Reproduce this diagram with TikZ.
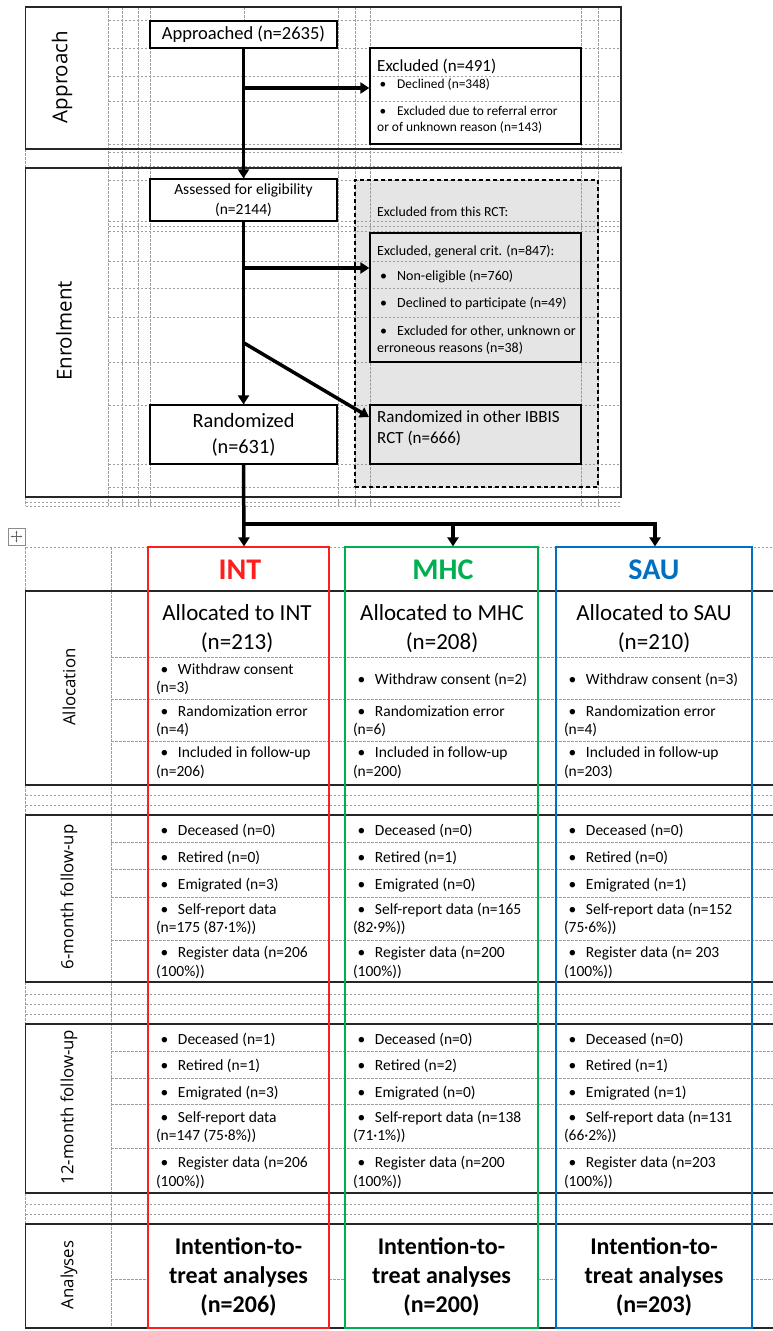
\documentclass[tikz,border=0pt]{standalone}
\usepackage{fontspec}
\setmainfont{Carlito}
\newfontfamily\labfont{Open Sans}
\usetikzlibrary{arrows.meta}
\usetikzlibrary{positioning}

\newcommand\fs[2]{\fontsize{#1}{#2}\selectfont}
\newcommand\itm[2][17.5pt]{\makebox[#1][l]{\textbullet}#2}
\newcommand\wrapln{\\\hspace*{-4.5pt}}

\begin{document}
\begin{tikzpicture}[x=1pt, y=-1pt,
    gline/.style={draw=black!38, line width=0.6pt, dash pattern=on 2.5pt off 1.5pt},
    sect/.style={draw=black!85, line width=1.7pt},
    box/.style={draw, line width=1.3pt, inner sep=0pt},
    arr/.style={-{Triangle[length=9pt,width=11pt]}, line width=3.5pt},
    txt/.style={anchor=west, inner sep=0pt, align=left},
    lab/.style={rotate=90, inner sep=0pt, font=\labfont\fs{20.5}{24}},
    sublab/.style={lab, font=\labfont\fs{16.8}{20}},
    colbox/.style={draw=#1, line width=1.2pt, inner sep=0pt, minimum height=781},
    item/.style={txt, font=\fs{15.5}{18.5}}]
  \useasboundingbox (0,0) rectangle (773,1331);
  % Define colors
  \definecolor{intred}{RGB}{255,30,30}
  \definecolor{mhcgreen}{RGB}{0,176,80}
  \definecolor{saublue}{RGB}{0,112,192}

  % Grey area of the other RCT
  \fill[black!10] (355,180) rectangle (598,487);

  % Table grid (upper part)
  \draw[gline] (108.5,20) -- (621,20) (108.5,48) -- (621,48) (108.5,76) -- (621,76)
    (108.5,101) -- (621,101) (108.5,144) -- (621,144) (108.5,152) -- (621,152)
    (108.5,166) -- (621,166) (108.5,180) -- (621,180) (108.5,221) -- (621,221)
    (108.5,226) -- (621,226) (108.5,231) -- (621,231) (108.5,261) -- (621,261)
    (108.5,288) -- (621,288) (108.5,317) -- (621,317) (108.5,362) -- (621,362)
    (108.5,405) -- (621,405) (108.5,464) -- (621,464) (108.5,487) -- (621,487)
    (25.6,502) -- (621,502) (25.6,506) -- (621,506);
  \draw[gline] (108.5,7) -- (108.5,506) (122,7) -- (122,506) (138,7) -- (138,506)
    (150,7) -- (150,506) (244,7) -- (244,506) (338,7) -- (338,506)
    (355,7) -- (355,506) (370,7) -- (370,506) (581,7) -- (581,506)
    (598,7) -- (598,506) (25.6,149) -- (25.6,168) (25.6,497) -- (25.6,506);

  % Table grid (lower part)
  \draw[gline] (25.6,547) -- (773,547) (25.6,547) -- (25.6,591) (111,547) -- (111,1328)
    (25.6,785) -- (25.6,815) (25.6,982) -- (25.6,1024) (25.6,1193) -- (25.6,1224);
  \draw[gline] (111,657) -- (773,657) (111,699) -- (773,699) (111,741) -- (773,741)
    (25.6,795) -- (773,795) (25.6,805) -- (773,805)
    (111,842) -- (773,842) (111,869) -- (773,869) (111,897) -- (773,897) (111,940) -- (773,940)
    (25.6,994) -- (773,994) (25.6,1004) -- (773,1004) (25.6,1014) -- (773,1014)
    (111,1051) -- (773,1051) (111,1078) -- (773,1078) (111,1104) -- (773,1104) (111,1148) -- (773,1148)
    (25.6,1204) -- (773,1204) (25.6,1214) -- (773,1214)
    (111,1279) -- (148,1279) (329,1279) -- (345,1279) (538,1279) -- (556,1279) (752,1279) -- (773,1279);

  % Section frames
  \draw[sect] (25.6,7) rectangle (621,149);
  \draw[sect] (25.6,168) rectangle (621,497);
  \draw[sect] (773,591) -- (25.6,591) -- (25.6,785) -- (773,785);
  \draw[sect] (773,815) -- (25.6,815) -- (25.6,982) -- (773,982);
  \draw[sect] (773,1024) -- (25.6,1024) -- (25.6,1193) -- (773,1193);
  \draw[sect] (773,1224) -- (25.6,1224) -- (25.6,1328) -- (773,1328);

  % Section labels
  \node[lab] (lapp) at (62,77) {Approach};
  \node[lab] (lenr) at (64,331) {Enrolment};
  \node[sublab] (lall) at (69,687) {Allocation};
  \node[sublab] (l6m) at (69,897) {6-month follow-up};
  \node[sublab] (l12m) at (69,1107) {12-month follow-up};
  \node[sublab] (lana) at (69,1275) {Analyses};

  % Approach
  \node[box, fill=white, minimum width=187, minimum height=27, font=\fs{18.5}{22}] (appr) at (243.5,34.5) {Approached (n=2635)};
  \node[box, minimum width=211, minimum height=96] (excl) at (475.5,96) {};
  \node[txt, font=\fs{17}{20}] (excl-t) at (377,66) {Excluded (n=491)};
  \node[txt, font=\fs{13.4}{16}] (excl-a) at (379.5,85) {\itm{Declined (n=348)}};
  \node[txt, font=\fs{13.4}{16}] (excl-b) at (379.5,120) {\itm{Excluded due to referral error}\\\hspace*{-2.5pt}or of unknown reason (n=143)};

  % Enrolment
  \node[draw, line width=1.2pt, dash pattern=on 4pt off 3pt, inner sep=0pt, minimum width=243, minimum height=307] (exarea) at (476.5,333.5) {};
  \node[txt, font=\fs{13.8}{16}] (exrct) at (377,212) {Excluded from this RCT:};
  \node[box, minimum width=211, minimum height=129] (exgen) at (475.5,297.5) {};
  \node[txt, font=\fs{14}{17}] (exgen-t) at (377,252) {Excluded, general crit. (n=847):};
  \node[txt, font=\fs{14}{17}] (exgen-a) at (380,277) {\itm[17pt]{Non-eligible (n=760)}};
  \node[txt, font=\fs{14}{17}] (exgen-b) at (380,304) {\itm[17pt]{Declined to participate (n=49)}};
  \node[txt, font=\fs{14}{17}] (exgen-c) at (380,340.5) {\itm[17pt]{Excluded for other, unknown or}\\\hspace*{-3pt}erroneous reasons (n=38)};
  \node[box, fill=white, minimum width=187, minimum height=42, align=center, font=\fs{15.5}{20}] (asse) at (243.5,200) {Assessed for eligibility\\(n=2144)};
  \node[box, fill=white, minimum width=187, minimum height=59, align=center, font=\fs{20.3}{26}] (rand) at (243.5,434.5) {Randomized\\(n=631)};
  \node[box, minimum width=211, minimum height=59] (rother) at (475.5,434.5) {};
  \node[txt, font=\fs{17}{21}] (rother-t) at (377,428.5) {Randomized in other IBBIS\\RCT (n=666)};

  % Flow arrows
  \coordinate (j1) at (244,88);
  \coordinate (j2) at (244,268);
  \coordinate (j3) at (244,343);
  \coordinate (d3) at (369,417);
  \draw[arr] (appr.south) -- (asse.north);
  \draw[arr] (j1) -- (j1 -| excl.west);
  \draw[arr] (j2) -- (j2 -| exgen.west);
  \draw[arr] (j3) -- (d3);
  \draw[arr] (asse.south) -- (rand.north);

  % Word table handle
  \node[draw=black!45, line width=0.8pt, minimum size=17, inner sep=0pt] (handle) at (16.5,536.5) {};
  \draw[black!60, line width=0.8pt, {Stealth[length=2.5pt]}-{Stealth[length=2.5pt]}] (handle.center) ++(-6,0) -- ++(12,0);
  \draw[black!60, line width=0.8pt, {Stealth[length=2.5pt]}-{Stealth[length=2.5pt]}] (handle.center) ++(0,-6) -- ++(0,12);

  % Arms
  \node[colbox=intred, minimum width=181] (cint) at (238.5,937.5) {};
  \node[colbox=mhcgreen, minimum width=193] (cmhc) at (441.5,937.5) {};
  \node[colbox=saublue, minimum width=196] (csau) at (654,937.5) {};
  \node[font=\bfseries\fs{30}{36}, text=intred] (hint) at (240,570) {INT};
  \node[font=\bfseries\fs{30}{36}, text=mhcgreen] (hmhc) at (443,570) {MHC};
  \node[font=\bfseries\fs{30}{36}, text=saublue] (hsau) at (654,570) {SAU};

  % Randomization split
  \coordinate (split) at (244,524);
  \coordinate (bm) at (453,524);
  \coordinate (bs) at (655,524);
  \draw[arr] (rand.south) -- (split |- cint.north);
  \draw[arr] (split) -| (bm |- cmhc.north);
  \draw[arr] (split) -| (bs |- csau.north);

  % Allocation
  \node[align=center, font=\fs{23}{29}] (aint) at (237,628.5) {Allocated to INT\\(n=213)};
  \node[align=center, font=\fs{23}{29}] (amhc) at (442,628.5) {Allocated to MHC\\(n=208)};
  \node[align=center, font=\fs{23}{29}] (asau) at (654,628.5) {Allocated to SAU\\(n=210)};
  \node[item] (i-a1) at (160.3,679) {\itm{Withdraw consent}\wrapln(n=3)};
  \node[item] (i-a2) at (160.3,721) {\itm{Randomization error}\wrapln(n=4)};
  \node[item] (i-a3) at (160.3,762.5) {\itm{Included in follow-up}\wrapln(n=206)};
  \node[item] (m-a1) at (357.3,680) {\itm{Withdraw consent (n=2)}};
  \node[item] (m-a2) at (357.3,721) {\itm{Randomization error}\wrapln(n=6)};
  \node[item] (m-a3) at (357.3,762.5) {\itm{Included in follow-up}\wrapln(n=200)};
  \node[item] (s-a1) at (568.3,680) {\itm{Withdraw consent (n=3)}};
  \node[item] (s-a2) at (568.3,721) {\itm{Randomization error}\wrapln(n=4)};
  \node[item] (s-a3) at (568.3,762.5) {\itm{Included in follow-up}\wrapln(n=203)};

  % 6-month follow-up
  \node[item] (i-b1) at (160.3,831) {\itm{Deceased (n=0)}};
  \node[item] (i-b2) at (160.3,858) {\itm{Retired (n=0)}};
  \node[item] (i-b3) at (160.3,885) {\itm{Emigrated (n=3)}};
  \node[item] (i-b4) at (160.3,919) {\itm{Self-report data}\wrapln(n=175 (87·1\%))};
  \node[item] (i-b5) at (160.3,962.5) {\itm{Register data (n=206}\wrapln(100\%))};
  \node[item] (m-b1) at (357.3,831) {\itm{Deceased (n=0)}};
  \node[item] (m-b2) at (357.3,858) {\itm{Retired (n=1)}};
  \node[item] (m-b3) at (357.3,885) {\itm{Emigrated (n=0)}};
  \node[item] (m-b4) at (357.3,919) {\itm{Self-report data (n=165}\wrapln(82·9\%))};
  \node[item] (m-b5) at (357.3,962.5) {\itm{Register data (n=200}\wrapln(100\%))};
  \node[item] (s-b1) at (568.3,831) {\itm{Deceased (n=0)}};
  \node[item] (s-b2) at (568.3,858) {\itm{Retired (n=0)}};
  \node[item] (s-b3) at (568.3,885) {\itm{Emigrated (n=1)}};
  \node[item] (s-b4) at (568.3,919) {\itm{Self-report data (n=152}\wrapln(75·6\%))};
  \node[item] (s-b5) at (568.3,962.5) {\itm{Register data (n= 203}\wrapln(100\%))};

  % 12-month follow-up
  \node[item] (i-c1) at (160.3,1040) {\itm{Deceased (n=1)}};
  \node[item] (i-c2) at (160.3,1066) {\itm{Retired (n=1)}};
  \node[item] (i-c3) at (160.3,1093) {\itm{Emigrated (n=3)}};
  \node[item] (i-c4) at (160.3,1127) {\itm{Self-report data}\wrapln(n=147 (75·8\%))};
  \node[item] (i-c5) at (160.3,1172.5) {\itm{Register data (n=206}\wrapln(100\%))};
  \node[item] (m-c1) at (357.3,1040) {\itm{Deceased (n=0)}};
  \node[item] (m-c2) at (357.3,1066) {\itm{Retired (n=2)}};
  \node[item] (m-c3) at (357.3,1093) {\itm{Emigrated (n=0)}};
  \node[item] (m-c4) at (357.3,1127) {\itm{Self-report data (n=138}\wrapln(71·1\%))};
  \node[item] (m-c5) at (357.3,1172.5) {\itm{Register data (n=200}\wrapln(100\%))};
  \node[item] (s-c1) at (568.3,1040) {\itm{Deceased (n=0)}};
  \node[item] (s-c2) at (568.3,1066) {\itm{Retired (n=1)}};
  \node[item] (s-c3) at (568.3,1093) {\itm{Emigrated (n=1)}};
  \node[item] (s-c4) at (568.3,1127) {\itm{Self-report data (n=131}\wrapln(66·2\%))};
  \node[item] (s-c5) at (568.3,1172.5) {\itm{Register data (n=203}\wrapln(100\%))};

  % Analyses
  \node[align=center, font=\bfseries\fs{24}{29}] (tint) at (238.5,1277) {Intention-to-\\treat analyses\\(n=206)};
  \node[align=center, font=\bfseries\fs{24}{29}] (tmhc) at (441.5,1277) {Intention-to-\\treat analyses\\(n=200)};
  \node[align=center, font=\bfseries\fs{24}{29}] (tsau) at (654,1277) {Intention-to-\\treat analyses\\(n=203)};
\end{tikzpicture}
\end{document}
